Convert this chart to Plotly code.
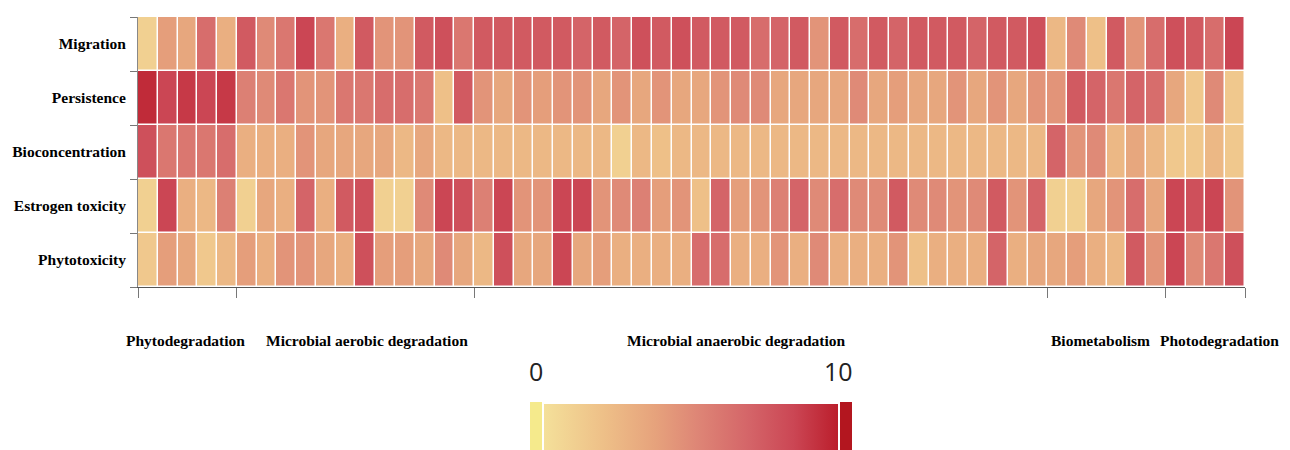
import plotly.graph_objects as go

indicators = ["Migration", "Persistence", "Bioconcentration", "Estrogen toxicity", "Phytotoxicity"]
groups = ["Phytodegradation", "Microbial aerobic degradation", "Microbial anaerobic degradation",
          "Biometabolism", "Photodegradation"]
group_sizes = [5, 12, 29, 6, 4]

migration = [1, 4, 3.5, 6.5, 3, 7.5, 5,
             6, 8.5, 6, 3, 7.5, 4.5, 4.5,
             7.5, 8, 6, 7.5, 7.5, 7.5, 7.5,
             7.5, 7, 7.5, 7, 8, 7.5, 8,
             7.5, 7.5, 7.5, 6.5, 7, 7.5, 4.5,
             7.5, 6.5, 7.5, 7, 7.5, 7.5, 7.5,
             7, 7.5, 7.5, 8, 2.5, 5, 2,
             7.5, 4.5, 6.5, 8, 7.5, 6.5, 8.5]
persistence = [9.5, 8.5, 9, 8.5, 9, 5.5, 5,
               6, 4.5, 4.5, 6, 6, 6.5, 6.5,
               6, 2, 7.5, 4.5, 3.5, 4.5, 4,
               4.5, 4.5, 3.5, 4.5, 3.5, 4.5, 3.5,
               3.5, 4.5, 5, 5, 3.5, 3.5, 3.5,
               3.5, 5, 3.5, 4, 3.5, 3.5, 4.5,
               3.5, 4.5, 3.5, 4.5, 4.5, 7.5, 7,
               6, 7, 6.5, 3.5, 1.5, 5, 1.5]
bioconcentration = [8, 6, 6, 6, 6.5, 3, 3,
                    3, 4.5, 3.5, 3.5, 3.5, 3.5, 2.5,
                    3.5, 2.5, 2.5, 2.5, 2.5, 2.5, 2.5,
                    2.5, 2.5, 2.5, 1, 2.5, 2, 2.5,
                    2.5, 2.5, 2.5, 2.5, 2.5, 2.5, 2.5,
                    2.5, 2.5, 2.5, 2.5, 2.5, 2.5, 2.5,
                    2.5, 2.5, 2.5, 2.5, 7, 4.5, 5,
                    2.5, 3.5, 2.5, 1.5, 1.5, 2.5, 1.5]
estrogen = [1, 8.5, 3, 2.5, 5.5, 1, 3.5,
            3, 7, 3, 7.5, 8, 1, 1,
            5, 8.5, 8, 5.5, 8.5, 4.5, 4.5,
            8.5, 8.5, 4.5, 5, 5.5, 4, 4.5,
            2, 7, 4, 4.5, 5.5, 7, 5,
            6.5, 5, 5, 7.5, 5, 5, 4.5,
            5, 7.5, 4.5, 7, 1, 1, 3.5,
            4.5, 6.5, 3.5, 8.5, 8, 8.5, 4.5]
phytotoxicity = [1.5, 4, 3.5, 1.5, 2.5, 4, 3,
                 4.5, 4.5, 3.5, 3, 8, 4, 4,
                 3.5, 5, 3.5, 2.5, 8, 3.5, 3.5,
                 8.5, 3.5, 4, 3, 3, 3, 3,
                 6.5, 6.5, 3, 3, 4.5, 3, 5,
                 3, 3, 3, 4.5, 2, 3, 3,
                 3, 7, 3, 3.5, 3.5, 4, 3,
                 2.5, 7.5, 4.5, 8.5, 5, 6, 8]

label_x = [1.9, 11.1, 29.8, 48.2, 54.2]

z = [migration, persistence, bioconcentration, estrogen, phytotoxicity]
ncol = len(migration)
xs = list(range(ncol))

colorscale = [
    [0.0, "#F4E09A"],
    [0.2, "#EEC088"],
    [0.38, "#E6A27C"],
    [0.52, "#DE8676"],
    [0.7, "#D46468"],
    [0.85, "#CB4654"],
    [1.0, "#BB1E2C"],
]

# group boundaries
bounds = [-0.5]
acc = -0.5
for s in group_sizes:
    acc += s
    bounds.append(acc)

OFF = 8  # default page body margin
W, H = 1290 - OFF, 450 - OFF
ml, mr, mt, mb = 138 - OFF, 45, 17 - OFF, 163
pw = W - ml - mr
ph = H - mt - mb


def px_to_paper_x(px):
    return (px - OFF - ml) / pw


def px_to_paper_y(py):
    return (H - mb - (py - OFF)) / ph


fig = go.Figure(go.Heatmap(
    z=z, x=xs, y=list(range(len(indicators))),
    colorscale=colorscale, zmin=0, zmax=10,
    xgap=1.5, ygap=1.5,
    colorbar=dict(
        orientation="h",
        lenmode="pixels", len=294,
        thickness=46, thicknessmode="pixels",
        x=px_to_paper_x(691), xanchor="center",
        y=px_to_paper_y(404), yanchor="top",
        outlinewidth=0, showticklabels=False, ticks="",
        xpad=0, ypad=0,
    ),
))

fig.update_layout(
    width=W, height=H,
    margin=dict(l=ml, r=mr, t=mt, b=mb, autoexpand=False),
    paper_bgcolor="white", plot_bgcolor="white",
    font=dict(family="Liberation Serif", size=16, color="black"),
)

fig.update_xaxes(
    range=[-0.5, ncol - 0.5],
    tickmode="array", tickvals=bounds, showticklabels=False,
    ticks="outside", ticklen=10, tickcolor="#777", tickwidth=1,
    showline=True, linecolor="#555", linewidth=1,
    showgrid=False, zeroline=False, automargin=False,
)
fig.update_yaxes(
    range=[len(indicators) - 0.5, -0.5],
    tickmode="array", tickvals=list(range(len(indicators))), ticktext=indicators,
    ticks="", ticklabelstandoff=8,
    tickfont=dict(family="Liberation Serif", size=15.5, color="black", weight="bold"),
    minor=dict(tickmode="array", tickvals=[i - 0.5 for i in range(len(indicators) + 1)],
               ticks="outside", ticklen=7, tickcolor="#777", tickwidth=1, showgrid=False),
    showline=True, linecolor="#888", linewidth=1,
    showgrid=False, zeroline=False, automargin=False,
)

for g, lx in zip(groups, label_x):
    fig.add_annotation(
        x=lx, xref="x", y=px_to_paper_y(340), yref="paper",
        text=f"<b>{g}</b>", showarrow=False, xanchor="center", yanchor="middle",
        font=dict(family="Liberation Serif", size=15.5, color="black"),
    )

for txt, px in [("0", 536), ("10", 838)]:
    fig.add_annotation(
        x=px_to_paper_x(px), xref="paper", y=px_to_paper_y(371), yref="paper",
        text=txt, showarrow=False, xanchor="center", yanchor="middle",
        font=dict(family="Open Sans", size=25, color="#222"),
    )

# end caps of the colour bar
for x0, x1, col in [(530, 542, "#F5EA8C"), (840, 852, "#B3161F")]:
    fig.add_shape(
        type="rect", xref="paper", yref="paper",
        x0=px_to_paper_x(x0), x1=px_to_paper_x(x1),
        y0=px_to_paper_y(450), y1=px_to_paper_y(402),
        fillcolor=col, line=dict(width=0), layer="above",
    )

fig.write_html("out.html")
